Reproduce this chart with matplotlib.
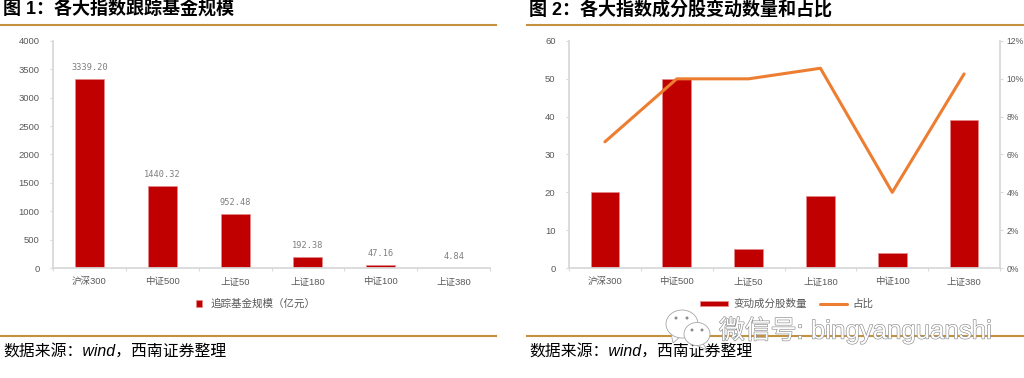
import matplotlib
matplotlib.use("Agg")
import matplotlib.pyplot as plt
import matplotlib.patheffects as pe
from matplotlib.patches import Ellipse, Polygon
from matplotlib.lines import Line2D

plt.rcParams['font.family'] = ['Liberation Sans', 'Noto Sans CJK SC', 'DejaVu Sans']

W, H = 1024, 378

indexes = ["沪深300", "中证500", "上证50", "上证180", "中证100", "上证380"]
fund_size = [3339.20, 1440.32, 952.48, 192.38, 47.16, 4.84]
fund_labels = ["3339.20", "1440.32", "952.48", "192.38", "47.16", "4.84"]
changed_count = [20, 50, 5, 19, 4, 39]
changed_share = [6.67, 10.0, 10.0, 10.56, 4.0, 10.26]
left_ticks = [0, 500, 1000, 1500, 2000, 2500, 3000, 3500, 4000]
count_ticks = [0, 10, 20, 30, 40, 50, 60]
share_ticks = [0, 2, 4, 6, 8, 10, 12]

RED = "#c00000"
ORANGE = "#ed7d31"
GOLD = "#c4923e"
GREY = "#d9d9d9"
TXT = "#595959"
CJK = ['Liberation Sans', 'Noto Sans CJK SC']


def axes_px(fig, x0, x1, y0, y1):
    # pixel box, y measured from the top of the image
    return fig.add_axes([x0 / W, 1 - y1 / H, (x1 - x0) / W, (y1 - y0) / H])


def style_axis(ax):
    for side in ["top", "right"]:
        ax.spines[side].set_visible(False)
    for side in ["left", "bottom"]:
        ax.spines[side].set_color(GREY)
        ax.spines[side].set_linewidth(1.3)
    ax.set_xlim(-0.5, 5.5)
    ax.set_xticks(range(6))
    ax.set_xticklabels(indexes, fontsize=6.8, color=TXT, va="baseline")
    ax.set_xticks([i - 0.5 for i in range(7)], minor=True)
    ax.tick_params(axis="x", which="major", length=0, pad=11.3)
    ax.tick_params(axis="x", which="minor", length=2.2, color=GREY, width=0.8)
    ax.tick_params(axis="y", length=2.2, color=GREY, width=0.8, labelsize=6.8,
                   labelcolor=TXT, pad=7.5)


def rule(fig, x0, x1, y):
    fig.add_artist(Line2D([x0 / W, x1 / W], [1 - y / H, 1 - y / H], color=GOLD, lw=1.5))


def label(fig, x, y, s, **kw):
    return fig.text(x / W, 1 - y / H, s, va="center", ha="left", **kw)


fig = plt.figure(figsize=(W / 100, H / 100), dpi=100)

# left panel
ax1 = axes_px(fig, 53, 490, 41, 268)
style_axis(ax1)
ax1.bar(range(6), fund_size, width=0.4, color=RED, edgecolor="#e58a8a", linewidth=0.5,
        label="追踪基金规模（亿元）")
ax1.set_ylim(0, 4000)
ax1.set_yticks(left_ticks)
for i, v in enumerate(fund_size):
    ax1.annotate(fund_labels[i], (i, v), xytext=(0, 5), textcoords="offset points",
                 ha="center", va="bottom", fontsize=6.2, color="#7f7f7f",
                 family="DejaVu Sans Mono")
ax1.legend(loc="center", bbox_to_anchor=(256 / W, 1 - 304 / H),
           bbox_transform=fig.transFigure, frameon=False, fontsize=7.6, labelcolor=TXT,
           handlelength=0.6, handleheight=0.6, handletextpad=0.8, borderpad=0, borderaxespad=0)

# right panel
ax2 = axes_px(fig, 569, 1000, 41, 268)
style_axis(ax2)
ax2.bar(range(6), changed_count, width=0.4, color=RED, edgecolor="#e58a8a", linewidth=0.5,
        label="变动成分股数量")
ax2.set_ylim(0, 60)
ax2.set_yticks(count_ticks)

ax3 = ax2.twinx()
ax3.set_position(ax2.get_position())
for side in ["top", "left", "bottom"]:
    ax3.spines[side].set_visible(False)
ax3.spines["right"].set_color(GREY)
ax3.spines["right"].set_linewidth(1.3)
ax3.plot(range(6), changed_share, color=ORANGE, lw=2.2, label="占比", solid_capstyle="round")
ax3.set_ylim(0, 12)
ax3.set_yticks(share_ticks)
ax3.set_yticklabels([f"{v}%" for v in share_ticks])
ax3.tick_params(axis="y", length=2.2, color=GREY, width=0.8, labelsize=6.2,
                labelcolor=TXT, pad=2.5)

handles = ax2.get_legend_handles_labels()[0] + ax3.get_legend_handles_labels()[0]
names = ax2.get_legend_handles_labels()[1] + ax3.get_legend_handles_labels()[1]
ax2.legend(handles, names, loc="center", ncol=2, bbox_to_anchor=(787 / W, 1 - 304 / H),
           bbox_transform=fig.transFigure, frameon=False, fontsize=7.6, labelcolor=TXT,
           handlelength=2.6, handleheight=0.35, handletextpad=0.55, columnspacing=1.2,
           borderpad=0, borderaxespad=0)

# titles, rules, sources
label(fig, 3, 10, "图 1：各大指数跟踪基金规模", fontsize=13, weight="bold", color="black", family=CJK)
label(fig, 529, 10, "图 2：各大指数成分股变动数量和占比", fontsize=13, weight="bold", color="black", family=CJK)
rule(fig, 1, 496, 25)
rule(fig, 527, 1024, 25)
rule(fig, 1, 496, 336)
rule(fig, 527, 1024, 336)
label(fig, 3, 352, "数据来源：wind，西南证券整理", fontsize=11.4, style="italic", color="black", family=CJK)
label(fig, 529, 352, "数据来源：wind，西南证券整理", fontsize=11.4, style="italic", color="black", family=CJK)

# watermark
wm = label(fig, 719, 330, "微信号: bingyanguanshi", fontsize=18.6, color="white", family=CJK, zorder=6)
wm.set_path_effects([pe.withStroke(linewidth=0.9, foreground="#8c8c8c")])

ov = fig.add_axes([0, 0, 1, 1], zorder=10)
ov.set_xlim(0, W)
ov.set_ylim(H, 0)
ov.axis("off")
ov.add_patch(Polygon([[671, 333], [673, 343], [681, 336]], fc="white", ec="#a6a6a6", lw=0.6))
ov.add_patch(Ellipse((682, 324), 32, 28, fc="white", ec="#a6a6a6", lw=0.6))
ov.add_patch(Polygon([[702, 342], [707, 350], [696, 345]], fc="white", ec="#a6a6a6", lw=0.6))
ov.add_patch(Ellipse((697, 334), 26, 23, fc="white", ec="#a6a6a6", lw=0.6))
for x, y in [(676, 318), (687, 318), (692, 330), (702, 330)]:
    ov.add_patch(Ellipse((x, y), 3, 3, fc="#8c8c8c", ec="none"))

fig.savefig("out.png", dpi=100, facecolor="white")
